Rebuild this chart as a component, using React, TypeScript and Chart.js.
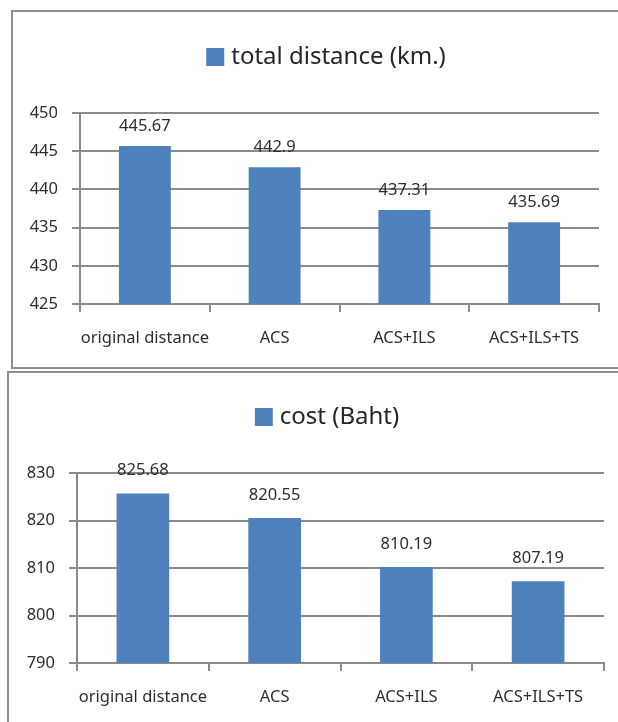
import React, { useEffect, useRef } from "react";
import { Chart, registerables } from "chart.js";

Chart.register(...registerables);

// Shared categories for both panels
const categories = ["original distance", "ACS", "ACS+ILS", "ACS+ILS+TS"];

// Panel 1: total distance
const distanceLabel = "total distance (km.)";
const distanceValues = [445.67, 442.9, 437.31, 435.69];
const distanceTicks = [425, 430, 435, 440, 445, 450];

// Panel 2: cost
const costLabel = "cost (Baht)";
const costValues = [825.68, 820.55, 810.19, 807.19];
const costTicks = [790, 800, 810, 820, 830];

const BAR = "#4F81BD";
const GRID = "#8a8a8a";
const TEXT = "#2e2e2e";
const FONT = "'Noto Sans', sans-serif";

// Draws the value of every bar just above its top edge
const valueLabels = {
  id: "valueLabels",
  afterDatasetsDraw(chart: any, _args: any, opts: any) {
    const ctx = chart.ctx;
    ctx.save();
    ctx.font = `16.5px ${FONT}`;
    ctx.fillStyle = TEXT;
    ctx.textAlign = "center";
    ctx.textBaseline = "middle";
    chart.data.datasets.forEach((ds: any, i: number) => {
      const meta = chart.getDatasetMeta(i);
      meta.data.forEach((bar: any, j: number) => {
        ctx.fillText(String(ds.data[j]), bar.x, bar.y - opts.gap);
      });
    });
    ctx.restore();
  },
};

// Series key drawn as a swatch followed by the series name
const seriesKey = {
  id: "seriesKey",
  afterDraw(chart: any, _args: any, opts: any) {
    const ctx = chart.ctx;
    const ds = chart.data.datasets[0];
    ctx.save();
    ctx.font = `24px ${FONT}`;
    const w = ctx.measureText(ds.label).width;
    const total = opts.box + 7 + w;
    const x0 = opts.cx - total / 2;
    ctx.fillStyle = ds.backgroundColor;
    ctx.fillRect(x0, opts.cy - opts.box / 2, opts.box, opts.box);
    ctx.fillStyle = "#262626";
    ctx.textAlign = "left";
    ctx.textBaseline = "middle";
    ctx.fillText(ds.label, x0 + opts.box + 7, opts.cy);
    ctx.restore();
  },
};

type PanelProps = {
  label: string;
  values: number[];
  ticks: number[];
  step: number;
  width: number;
  height: number;
  axisLeft: number;
  padTop: number;
  padRight: number;
  axisBottom: number;
  keyX: number;
  keyY: number;
  gap: number;
};

function Panel(p: PanelProps) {
  const ref = useRef<HTMLCanvasElement>(null);
  useEffect(() => {
    const chart = new Chart(ref.current as HTMLCanvasElement, {
      type: "bar",
      data: {
        labels: categories,
        datasets: [
          {
            label: p.label,
            data: p.values,
            backgroundColor: BAR,
            categoryPercentage: 1,
            barPercentage: 0.4,
          },
        ],
      },
      plugins: [valueLabels, seriesKey],
      options: {
        animation: false,
        responsive: false,
        maintainAspectRatio: false,
        layout: { padding: { top: p.padTop, right: p.padRight, left: 0, bottom: 0 } },
        plugins: {
          legend: { display: false },
          tooltip: { enabled: false },
          seriesKey: { cx: p.keyX, cy: p.keyY, box: 18 },
          valueLabels: { gap: p.gap },
        } as any,
        scales: {
          x: {
            offset: true,
            grid: {
              offset: true,
              drawOnChartArea: false,
              drawTicks: true,
              tickLength: 8,
              color: GRID,
              lineWidth: 2,
            },
            border: { display: true, color: GRID, width: 2 },
            ticks: {
              color: TEXT,
              font: { family: FONT, size: 16.5 },
              padding: 16,
              maxRotation: 0,
              autoSkip: false,
            },
            afterFit: (s: any) => {
              s.height = p.axisBottom;
            },
          },
          y: {
            min: p.ticks[0],
            max: p.ticks[p.ticks.length - 1],
            ticks: {
              stepSize: p.step,
              color: TEXT,
              font: { family: FONT, size: 16.5 },
              padding: 14,
            },
            grid: { color: GRID, lineWidth: 2, tickLength: 8 },
            border: { display: true, color: GRID, width: 2 },
            afterFit: (s: any) => {
              s.width = p.axisLeft;
            },
          },
        },
      } as any,
    });
    return () => chart.destroy();
  }, []);
  return <canvas ref={ref} width={p.width} height={p.height} style={{ display: "block" }} />;
}

export default function App() {
  return (
    <div style={{ position: "absolute", left: 0, top: 0, width: 618, height: 722, overflow: "hidden", background: "#fff" }}>
      <div
        style={{
          position: "absolute",
          left: 11,
          top: 10,
          width: 640,
          height: 355,
          border: "2px solid #8f8f8f",
        }}
      />
      <div
        style={{
          position: "absolute",
          left: 7,
          top: 371,
          width: 640,
          height: 400,
          border: "2px solid #8f8f8f",
        }}
      />
      <div style={{ position: "absolute", left: 0, top: 0 }}>
        <Panel
          label={distanceLabel}
          values={distanceValues}
          ticks={distanceTicks}
          step={5}
          width={618}
          height={365}
          axisLeft={80}
          padTop={113}
          padRight={19}
          axisBottom={61}
          keyX={326}
          keyY={57}
          gap={20}
        />
      </div>
      <div style={{ position: "absolute", left: 0, top: 371 }}>
        <Panel
          label={costLabel}
          values={costValues}
          ticks={costTicks}
          step={10}
          width={618}
          height={351}
          axisLeft={77}
          padTop={102}
          padRight={14}
          axisBottom={59}
          keyX={327}
          keyY={46}
          gap={23}
        />
      </div>
    </div>
  );
}
